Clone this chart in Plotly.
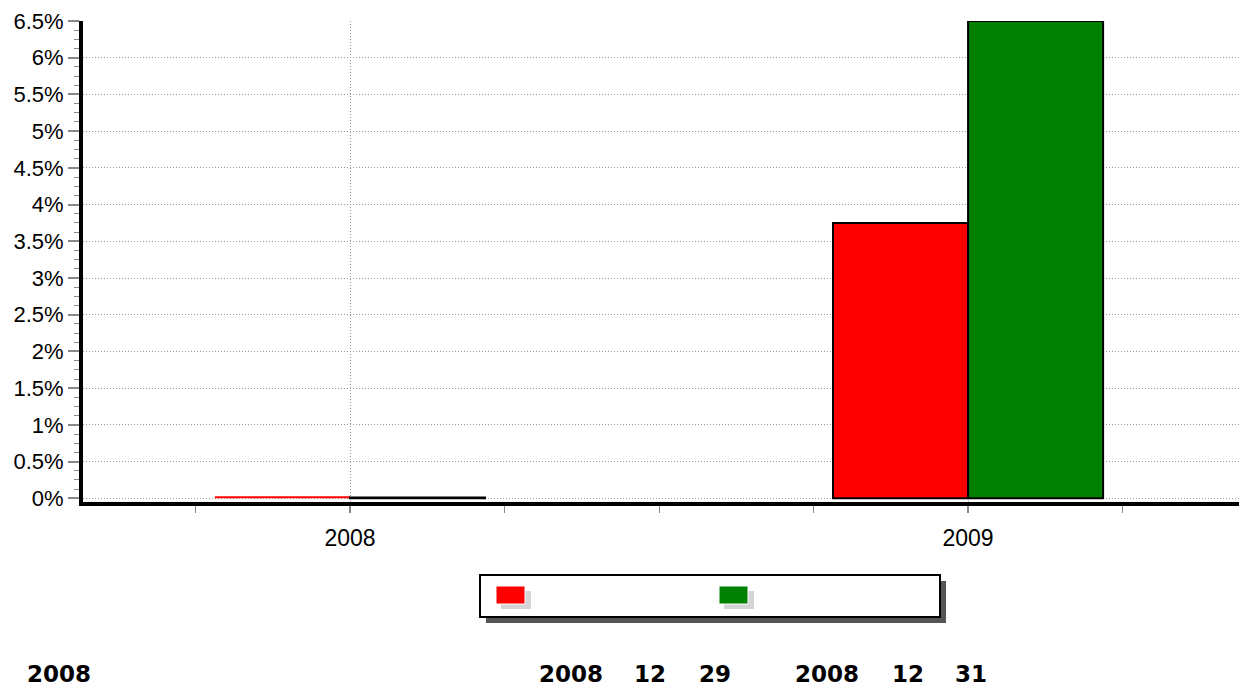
import plotly.graph_objects as go

# ---- data ----
years = [2008, 2009]
red_values = [0.03, 3.75]
green_values = [0.01, 6.5]
year_labels = ["2008", "2009"]
series_colors = ["#FF0000", "#008000"]
footer_texts = ["2008", "2008", "12", "29", "2008", "12", "31"]
footer_x_px = [25, 537, 632, 697, 793, 890, 953]

W, H = 1247, 700
OFF = 8  # page body margin offset
L, R, T, B = 83 - OFF, 1240 - OFF, 21 - OFF, 502 - OFF


def px_x(p):
    return (p - OFF - L) / (R - L)


def px_y(p):
    return (B - (p - OFF)) / (B - T)


fig = go.Figure()
fig.add_trace(go.Bar(
    x=years, y=red_values, name=" ",
    marker=dict(color=series_colors[0],
                line=dict(color="black", width=[0, 2])),
    showlegend=False,
))
fig.add_trace(go.Bar(
    x=years, y=green_values, name=" ",
    marker=dict(color=series_colors[1], line=dict(color="black", width=2)),
    showlegend=False,
))

shapes = []
# legend shadow + box
shapes.append(dict(type="rect", xref="paper", yref="paper",
                   x0=px_x(486), x1=px_x(946), y0=px_y(623), y1=px_y(581),
                   fillcolor="#555555", line=dict(width=0), layer="above"))
shapes.append(dict(type="rect", xref="paper", yref="paper",
                   x0=px_x(480), x1=px_x(940), y0=px_y(617), y1=px_y(575),
                   fillcolor="white", line=dict(color="black", width=2), layer="above"))
# legend swatches with soft shadows
for sx, col in zip([496, 719], series_colors):
    shapes.append(dict(type="rect", xref="paper", yref="paper",
                       x0=px_x(sx + 5), x1=px_x(sx + 35), y0=px_y(609), y1=px_y(591),
                       fillcolor="#d4d4d4", line=dict(width=0), layer="above"))
    shapes.append(dict(type="rect", xref="paper", yref="paper",
                       x0=px_x(sx), x1=px_x(sx + 29), y0=px_y(604), y1=px_y(586),
                       fillcolor=col, line=dict(color="white", width=1), layer="above"))

annotations = []
for txt, xp in zip(footer_texts, footer_x_px):
    annotations.append(dict(
        text=txt, xref="paper", yref="paper", x=px_x(xp), y=px_y(689),
        xanchor="left", yanchor="bottom", showarrow=False,
        font=dict(family="DejaVu Sans", size=23, color="black", weight="bold"),
    ))

fig.update_layout(
    width=W, height=H,
    margin=dict(l=L, r=W - R, t=T, b=H - B, pad=0, autoexpand=False),
    paper_bgcolor="white", plot_bgcolor="white",
    barmode="group", bargap=0.563, bargroupgap=0,
    font=dict(family="Liberation Sans", color="black", size=20),
    shapes=shapes, annotations=annotations,
    showlegend=False,
)
fig.update_xaxes(
    range=[2007.568, 2009.44],
    tickvals=years, ticktext=year_labels,
    showline=True, linecolor="black", linewidth=4,
    ticks="outside", ticklen=7, tickcolor="#888", tickwidth=2,
    minor=dict(dtick=0.25, tick0=2008, ticks="outside", ticklen=7,
               tickcolor="#888", tickwidth=1, showgrid=False),
    showgrid=True, gridcolor="#999", griddash="1px,2px", gridwidth=1,
    tickfont=dict(size=23), ticklabelstandoff=5, zeroline=False,
    automargin=False, ticklabeloverflow="allow",
)
fig.update_yaxes(
    range=[-0.05, 6.5],
    tick0=0, dtick=0.5, ticksuffix="%",
    showline=True, linecolor="black", linewidth=4,
    ticks="outside", ticklen=11, tickcolor="#888", tickwidth=2,
    minor=dict(dtick=0.125, tick0=0, ticks="outside", ticklen=5,
               tickcolor="#888", tickwidth=1, showgrid=False),
    showgrid=True, gridcolor="#999", griddash="1px,2px", gridwidth=1,
    tickfont=dict(size=22), zeroline=False,
    automargin=False, ticklabeloverflow="allow",
)

fig.write_html("out.html")
